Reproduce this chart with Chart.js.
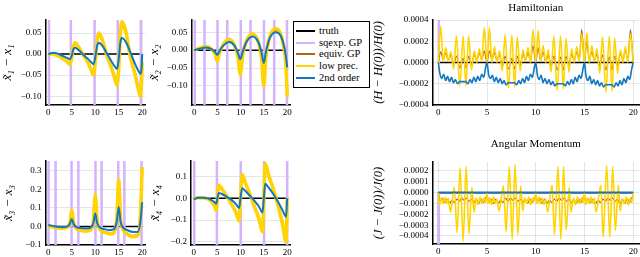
<!DOCTYPE html>
<html><head><meta charset="utf-8">
<script src="https://cdn.jsdelivr.net/npm/chart.js@4.4.1/dist/chart.umd.min.js"></script>
<style>
html,body{margin:0;padding:0;background:#fff;width:640px;height:257px;overflow:hidden;position:relative}
canvas{position:absolute}
#legend{position:absolute;left:293px;top:21px;width:77px;height:67px;border:1.3px solid #000;background:#fff;box-sizing:border-box;font-family:"Liberation Serif","DejaVu Serif",serif;font-size:10.5px;color:#000}
.row{position:absolute;left:0;width:100%;height:0}
.ln{position:absolute;left:2px;width:19px;height:2px;top:-1px}
.tx{position:absolute;left:25px;top:-7px;line-height:14px;white-space:nowrap}
</style></head>
<body>
<canvas id="p1"></canvas><canvas id="p2"></canvas><canvas id="p3"></canvas><canvas id="p4"></canvas>
<canvas id="ham"></canvas><canvas id="ang"></canvas>
<div id="legend"></div>
<script>
// ---------- tick labels ----------
const xTicks = [0, 5, 10, 15, 20];
const yTicks1 = [-0.10, -0.05, 0.00, 0.05];
const yTicks2 = [-0.10, -0.05, 0.00, 0.05];
const yTicks3 = [-0.1, 0.0, 0.1, 0.2, 0.3];
const yTicks4 = [-0.2, -0.1, 0.0, 0.1];
const yTicksH = [-0.0004, -0.0002, 0.0, 0.0002, 0.0004];
const yTicksJ = [-0.0004, -0.0003, -0.0002, -0.0001, 0.0, 0.0001, 0.0002];

// ---------- series names ----------
const seriesNames = ['truth', 'sqexp. GP', 'equiv. GP', 'low prec.', '2nd order'];

// ---------- truth ----------
const truthT = [0, 20];
const truthV = [0, 0];

// ---------- sqexp GP: times at which it shoots off the scale ----------
const sqexpOff = 1;           // off-scale magnitude (far outside every axis)
const sq1T = [0.15, 4.8, 9.85, 14.8, 19.7];
const sq2T = [0.1, 2.2, 5.0, 7.1, 10.0, 12.1, 15.0, 17.2, 19.95];
const sq3T = [0.05, 1.55, 4.95, 6.4, 10.05, 11.35, 14.9, 16.2, 19.85];
const sq4T = [0.1, 4.95, 10.05, 15.05, 20.0];
const sqHT = [0, 0.05];
const sqHV = [0, 0.01];
const sqJT = [0, 0.05];
const sqJV = [0, -0.01];

// ---------- panel 1 : x1 ----------
const t1 = [0, 1, 2, 3, 4, 4.6, 5.0, 5.35, 5.7, 6.5, 7.5, 8.5, 9.2, 9.65, 10.0, 10.4, 10.75, 11.5, 12.5, 13.5, 14.2, 14.65, 15.0, 15.35, 15.65, 16.5, 17.5, 18.5, 19.2, 19.6, 19.85, 20];
const low1 = [0, 0.0, -0.004, -0.01, -0.018, -0.025, -0.008, 0.018, 0.027, 0.016, -0.003, -0.022, -0.04, -0.05, -0.02, 0.03, 0.05, 0.035, -0.005, -0.035, -0.06, -0.075, -0.035, 0.045, 0.077, 0.055, -0.008, -0.05, -0.085, -0.1, -0.07, -0.02];
const equiv1 = [0, 0.0, -0.004, -0.009, -0.016, -0.022, -0.007, 0.016, 0.024, 0.014, -0.003, -0.02, -0.036, -0.045, -0.018, 0.027, 0.045, 0.031, -0.005, -0.032, -0.054, -0.068, -0.032, 0.04, 0.07, 0.05, -0.007, -0.045, -0.077, -0.09, -0.063, -0.018];
const second1 = [0, 0.003, 0.001, -0.004, -0.009, -0.012, -0.003, 0.012, 0.015, 0.009, -0.002, -0.012, -0.02, -0.024, -0.008, 0.02, 0.027, 0.02, 0.001, -0.018, -0.03, -0.035, -0.012, 0.028, 0.038, 0.029, 0.004, -0.024, -0.04, -0.047, -0.035, 0.0];

// ---------- panel 2 : x2 ----------
const t2 = [0, 1, 2.5, 3.8, 4.5, 4.95, 5.4, 6.2, 7.5, 8.7, 9.4, 9.9, 10.4, 11.2, 12.5, 13.8, 14.5, 14.95, 15.4, 16.2, 17.5, 18.6, 19.3, 19.7, 20];
const low2 = [0, 0.005, 0.01, 0.002, -0.012, -0.032, -0.008, 0.015, 0.03, 0.012, -0.02, -0.068, -0.015, 0.025, 0.045, 0.022, -0.025, -0.1, -0.02, 0.035, 0.06, 0.045, 0.005, -0.04, -0.13];
const equiv2 = [0, 0.004, 0.009, 0.002, -0.011, -0.029, -0.007, 0.014, 0.028, 0.011, -0.018, -0.06, -0.013, 0.023, 0.042, 0.02, -0.022, -0.088, -0.018, 0.032, 0.056, 0.042, 0.004, -0.036, -0.115];
const second2 = [0, 0.003, 0.007, 0.002, -0.006, -0.013, -0.003, 0.012, 0.023, 0.012, -0.008, -0.025, -0.005, 0.022, 0.038, 0.022, -0.008, -0.036, -0.006, 0.032, 0.05, 0.04, 0.012, -0.015, -0.048];

// ---------- panel 3 : x3 ----------
const t3 = [0, 1, 2, 3, 4, 4.6, 5.0, 5.4, 6, 7, 8, 9, 9.6, 10.0, 10.4, 11, 12, 13, 14, 14.6, 15.0, 15.4, 16, 17, 18, 19, 19.6, 20];
const low3 = [0.002, -0.004, -0.008, -0.01, -0.006, 0.02, 0.085, 0.02, -0.012, -0.022, -0.026, -0.02, 0.03, 0.17, 0.035, -0.015, -0.033, -0.04, -0.035, 0.05, 0.25, 0.045, -0.02, -0.045, -0.055, -0.05, 0.05, 0.32];
const equiv3 = [0.002, -0.004, -0.007, -0.009, -0.005, 0.018, 0.077, 0.018, -0.011, -0.02, -0.024, -0.018, 0.027, 0.155, 0.032, -0.014, -0.03, -0.036, -0.032, 0.045, 0.225, 0.04, -0.018, -0.041, -0.05, -0.045, 0.045, 0.29];
const second3 = [0.008, 0.003, -0.002, -0.004, -0.001, 0.014, 0.04, 0.012, -0.004, -0.009, -0.011, -0.007, 0.018, 0.07, 0.018, -0.006, -0.015, -0.02, -0.015, 0.028, 0.105, 0.025, -0.008, -0.022, -0.03, -0.03, 0.02, 0.13];

// ---------- panel 4 : x4 ----------
const t4 = [0, 1, 2, 3, 3.8, 4.4, 4.8, 5.05, 5.35, 6, 7, 8, 9, 9.7, 10.0, 10.35, 11, 12, 13, 14, 14.7, 15.0, 15.3, 16, 17, 18, 19, 19.75, 20];
const low4 = [0, 0.003, 0.003, -0.003, -0.015, -0.035, -0.055, 0.0, 0.06, 0.045, 0.012, -0.025, -0.065, -0.105, 0.0, 0.11, 0.075, 0.02, -0.04, -0.1, -0.155, 0.0, 0.16, 0.11, 0.045, -0.03, -0.12, -0.2, 0.0];
const equiv4 = [0, 0.003, 0.003, -0.003, -0.014, -0.032, -0.05, 0.0, 0.055, 0.041, 0.011, -0.023, -0.06, -0.095, 0.0, 0.1, 0.068, 0.018, -0.036, -0.09, -0.14, 0.0, 0.145, 0.1, 0.041, -0.027, -0.108, -0.18, 0.0];
const second4 = [-0.005, 0.003, 0.003, 0.0, -0.008, -0.017, -0.025, 0.0, 0.025, 0.02, 0.008, -0.006, -0.026, -0.045, 0.0, 0.047, 0.035, 0.012, -0.012, -0.04, -0.065, 0.0, 0.067, 0.05, 0.02, -0.015, -0.055, -0.085, 0.0];

// ---------- Hamiltonian ----------
const hamT = [0, 0.24, 0.5, 0.76, 1.02, 1.28, 1.57, 1.86, 2.2, 2.55, 2.83, 3.1, 3.4, 3.69, 3.95, 4.2, 4.46, 4.72, 5.0,
  5.24, 5.5, 5.76, 6.02, 6.28, 6.57, 6.86, 7.2, 7.55, 7.83, 8.1, 8.4, 8.69, 8.95, 9.2, 9.46, 9.72, 10.0,
  10.24, 10.5, 10.76, 11.02, 11.28, 11.57, 11.86, 12.2, 12.55, 12.83, 13.1, 13.4, 13.69, 13.95, 14.2, 14.46, 14.72, 15.0,
  15.24, 15.5, 15.76, 16.02, 16.28, 16.57, 16.86, 17.2, 17.55, 17.83, 18.1, 18.4, 18.69, 18.95, 19.2, 19.46, 19.72, 20.0];
const hamLow = [0, 3.4e-4, 0.1e-4, 1.4e-4, 0.1e-4, 1.0e-4, -0.6e-4, 2.5e-4, -2.2e-4, 2.5e-4, -2.2e-4, 2.5e-4, -0.7e-4, 1.1e-4, 0, 1.3e-4, 0.1e-4, 3.3e-4, 0,
  3.3e-4, 0, 1.5e-4, 0, 1.1e-4, -0.8e-4, 2.6e-4, -2.4e-4, 2.6e-4, -2.3e-4, 2.4e-4, -0.8e-4, 1.2e-4, 0.1e-4, 1.4e-4, 0, 3.1e-4, 0,
  3.0e-4, 0.1e-4, 1.6e-4, 0, 1.2e-4, -0.9e-4, 2.5e-4, -2.6e-4, 2.5e-4, -2.5e-4, 2.3e-4, -0.9e-4, 1.3e-4, 0, 1.5e-4, 0.1e-4, 2.7e-4, 0,
  2.8e-4, 0, 1.6e-4, 0.1e-4, 1.3e-4, -1.0e-4, 2.4e-4, -2.8e-4, 2.5e-4, -2.7e-4, 2.3e-4, -1.0e-4, 1.2e-4, 0, 1.5e-4, 0, 2.7e-4, 0];
const hamEquiv = [0, 1.0e-4, 0.3e-4, 0.9e-4, 0.2e-4, 0.7e-4, -0.2e-4, 0.6e-4, -0.5e-4, 0.4e-4, -0.5e-4, 0.6e-4, -0.2e-4, 0.7e-4, 0.2e-4, 0.9e-4, 0.3e-4, 1.1e-4, 0,
  1.1e-4, 0.3e-4, 0.9e-4, 0.2e-4, 0.7e-4, -0.3e-4, 0.6e-4, -0.6e-4, 0.4e-4, -0.6e-4, 0.6e-4, -0.3e-4, 0.8e-4, 0.2e-4, 0.9e-4, 0.2e-4, 1.6e-4, 0,
  1.4e-4, 0.2e-4, 1.0e-4, 0.1e-4, 0.7e-4, -0.3e-4, 0.6e-4, -0.7e-4, 0.5e-4, -0.7e-4, 0.6e-4, -0.2e-4, 0.8e-4, 0.2e-4, 1.0e-4, 0.2e-4, 3.1e-4, 0,
  2.0e-4, 0.3e-4, 1.0e-4, 0.2e-4, 0.8e-4, -0.3e-4, 0.7e-4, -0.7e-4, 0.5e-4, -0.7e-4, 0.6e-4, -0.2e-4, 0.8e-4, 0.3e-4, 1.1e-4, 0.3e-4, 3.1e-4, 0];
const hamSecondT = [0, 0.15, 0.35, 0.55, 0.75, 0.95, 1.15, 1.35, 1.55, 1.75, 1.95, 2.2, 2.5, 2.8, 3.05, 3.25, 3.45, 3.65, 3.85, 4.05, 4.25, 4.45, 4.65, 4.85, 5.0,
  5.15, 5.35, 5.55, 5.75, 5.95, 6.15, 6.35, 6.55, 6.75, 6.95, 7.2, 7.5, 7.8, 8.05, 8.25, 8.45, 8.65, 8.85, 9.05, 9.25, 9.45, 9.65, 9.85, 10.0,
  10.15, 10.35, 10.55, 10.75, 10.95, 11.15, 11.35, 11.55, 11.75, 11.95, 12.2, 12.5, 12.8, 13.05, 13.25, 13.45, 13.65, 13.85, 14.05, 14.25, 14.45, 14.65, 14.85, 15.0,
  15.15, 15.35, 15.55, 15.75, 15.95, 16.15, 16.35, 16.55, 16.75, 16.95, 17.2, 17.5, 17.8, 18.05, 18.25, 18.45, 18.65, 18.85, 19.05, 19.25, 19.45, 19.65, 19.85, 20.0];
const hamSecond = [0, -1.0e-4, -1.5e-4, -1.1e-4, -1.7e-4, -1.3e-4, -1.8e-4, -1.4e-4, -1.9e-4, -1.6e-4, -2.0e-4, -1.8e-4, -1.8e-4, -1.8e-4, -2.0e-4, -1.6e-4, -1.9e-4, -1.4e-4, -1.8e-4, -1.3e-4, -1.7e-4, -1.1e-4, -1.4e-4, -0.5e-4, 0,
  -1.1e-4, -1.5e-4, -1.2e-4, -1.8e-4, -1.4e-4, -1.9e-4, -1.5e-4, -2.0e-4, -1.7e-4, -2.1e-4, -1.9e-4, -1.9e-4, -1.9e-4, -2.1e-4, -1.7e-4, -2.0e-4, -1.5e-4, -1.9e-4, -1.3e-4, -1.7e-4, -1.1e-4, -1.4e-4, -0.5e-4, 0,
  -1.1e-4, -1.6e-4, -1.2e-4, -1.9e-4, -1.5e-4, -2.0e-4, -1.6e-4, -2.1e-4, -1.8e-4, -2.2e-4, -2.0e-4, -2.0e-4, -2.0e-4, -2.2e-4, -1.8e-4, -2.1e-4, -1.6e-4, -2.0e-4, -1.4e-4, -1.8e-4, -1.2e-4, -1.5e-4, -0.6e-4, 0,
  -1.2e-4, -1.7e-4, -1.3e-4, -2.0e-4, -1.6e-4, -2.1e-4, -1.7e-4, -2.2e-4, -1.9e-4, -2.3e-4, -2.1e-4, -2.1e-4, -2.1e-4, -2.3e-4, -1.9e-4, -2.2e-4, -1.7e-4, -2.1e-4, -1.5e-4, -1.9e-4, -1.3e-4, -1.6e-4, -0.6e-4, 0];

// ---------- Angular momentum ----------
const angLowT = [0, 0.12, 0.3, 0.48, 0.66, 0.84, 1.02, 1.24, 1.64, 1.92, 2.24, 2.54, 2.86, 3.14, 3.44, 3.66, 3.88, 4.08, 4.28, 4.48, 4.68, 4.86, 5.0,
  5.12, 5.3, 5.48, 5.66, 5.84, 6.02, 6.24, 6.68, 6.96, 7.28, 7.58, 7.88, 8.16, 8.46, 8.66, 8.88, 9.08, 9.28, 9.48, 9.68, 9.86, 10.0,
  10.12, 10.3, 10.48, 10.66, 10.84, 11.02, 11.22, 11.68, 11.92, 12.28, 12.58, 12.86, 13.12, 13.44, 13.62, 13.88, 14.08, 14.28, 14.48, 14.68, 14.86, 15.0,
  15.12, 15.3, 15.48, 15.66, 15.84, 16.02, 16.2, 16.68, 16.92, 17.28, 17.6, 17.9, 18.18, 18.48, 18.66, 18.88, 19.08, 19.28, 19.48, 19.68, 19.86, 20.0];
const angLow = [0, -1.1e-4, -0.5e-4, -1.0e-4, -0.4e-4, -1.0e-4, -0.5e-4, -1.8e-4, 0.5e-4, -3.7e-4, 2.3e-4, -4.5e-4, 2.4e-4, -3.8e-4, 0.5e-4, -1.8e-4, -0.5e-4, -1.1e-4, -0.4e-4, -1.0e-4, -0.5e-4, -0.9e-4, 0,
  -1.0e-4, -0.5e-4, -1.1e-4, -0.4e-4, -1.0e-4, -0.6e-4, -1.7e-4, 0.6e-4, -3.6e-4, 2.4e-4, -4.3e-4, 2.6e-4, -3.9e-4, 0.6e-4, -1.7e-4, -0.5e-4, -1.0e-4, -0.4e-4, -1.1e-4, -0.5e-4, -0.8e-4, 0,
  -1.0e-4, -0.4e-4, -1.0e-4, -0.5e-4, -1.1e-4, -0.6e-4, -1.8e-4, 0.7e-4, -3.9e-4, 2.4e-4, -4.3e-4, 2.4e-4, -3.5e-4, 0.5e-4, -1.8e-4, -0.5e-4, -1.1e-4, -0.4e-4, -1.0e-4, -0.5e-4, -0.9e-4, 0,
  -1.1e-4, -0.5e-4, -1.0e-4, -0.4e-4, -1.0e-4, -0.5e-4, -1.8e-4, 0.7e-4, -4.1e-4, 2.5e-4, -4.1e-4, 2.4e-4, -3.5e-4, 0.7e-4, -1.7e-4, -0.6e-4, -1.0e-4, -0.4e-4, -1.1e-4, -0.5e-4, -0.9e-4, 0];
const angEquivT = [0, 0.15, 0.4, 0.65, 0.9, 1.15, 1.4, 1.65, 1.9, 2.15, 2.4, 2.65, 2.9, 3.15, 3.4, 3.65, 3.9, 4.15, 4.4, 4.65, 4.85, 5.0,
  5.15, 5.4, 5.65, 5.9, 6.15, 6.4, 6.65, 6.9, 7.15, 7.4, 7.65, 7.9, 8.15, 8.4, 8.65, 8.9, 9.15, 9.4, 9.65, 9.85, 10.0,
  10.15, 10.4, 10.65, 10.9, 11.15, 11.4, 11.65, 11.9, 12.15, 12.4, 12.65, 12.9, 13.15, 13.4, 13.65, 13.9, 14.15, 14.4, 14.65, 14.85, 15.0,
  15.15, 15.4, 15.65, 15.9, 16.15, 16.4, 16.65, 16.9, 17.15, 17.4, 17.65, 17.9, 18.15, 18.4, 18.65, 18.9, 19.15, 19.4, 19.65, 19.85, 20.0];
const angEquiv = [0, -0.9e-4, -0.5e-4, -0.9e-4, -0.6e-4, -1.0e-4, -0.7e-4, -0.9e-4, -0.6e-4, -0.8e-4, -0.5e-4, -0.7e-4, -0.5e-4, -0.8e-4, -0.6e-4, -0.9e-4, -0.6e-4, -1.0e-4, -0.6e-4, -0.9e-4, -0.5e-4, -0.3e-4,
  -0.9e-4, -0.6e-4, -1.0e-4, -0.6e-4, -1.0e-4, -0.7e-4, -0.9e-4, -0.5e-4, -0.8e-4, -0.5e-4, -0.7e-4, -0.5e-4, -0.8e-4, -0.6e-4, -0.9e-4, -0.6e-4, -1.0e-4, -0.6e-4, -0.9e-4, -0.5e-4, -0.3e-4,
  -0.9e-4, -0.5e-4, -1.0e-4, -0.6e-4, -1.0e-4, -0.7e-4, -0.9e-4, -0.6e-4, -0.8e-4, -0.5e-4, -0.7e-4, -0.5e-4, -0.8e-4, -0.6e-4, -0.9e-4, -0.6e-4, -1.0e-4, -0.6e-4, -0.9e-4, -0.5e-4, -0.3e-4,
  -0.9e-4, -0.6e-4, -0.9e-4, -0.6e-4, -1.0e-4, -0.7e-4, -0.9e-4, -0.6e-4, -0.8e-4, -0.5e-4, -0.7e-4, -0.5e-4, -0.8e-4, -0.6e-4, -1.0e-4, -0.6e-4, -1.0e-4, -0.6e-4, -0.9e-4, -0.5e-4, -0.3e-4];
const angSecondT = [0, 20];
const angSecond = [0.02e-4, 0.02e-4];

// ---------- styling ----------
const C = {truth: '#000000', sqexp: '#d5b3fa', equiv: '#b0621f', low: '#ffd400', second: '#1177c0'};
const FONT = '"Liberation Serif", "DejaVu Serif", serif';
const GRID = 'rgba(0,0,0,0.10)';

function pts(t, v) { return t.map((x, i) => ({x: x, y: v[i]})); }
function spikes(ts) {
  const d = [];
  ts.forEach(t => { d.push({x: t, y: sqexpOff}, {x: t, y: -sqexpOff}, {x: t, y: null}); });
  return d;
}
function ds(data, color, width, smooth) {
  return {data: data, borderColor: color, backgroundColor: color, borderWidth: width, fill: false,
    pointRadius: 0, spanGaps: false, tension: 0,
    cubicInterpolationMode: smooth ? 'monotone' : 'default'};
}
function fmt(d) { return v => (v < 0 ? '\u2212' : '') + Math.abs(v).toFixed(d); }

function makeChart(id, g, yr, yTicks, yDec, yLabel, datasets, title) {
  const cv = document.getElementById(id);
  cv.width = g.w; cv.height = g.h;
  cv.style.left = g.l + 'px'; cv.style.top = g.t + 'px';
  cv.style.width = g.w + 'px'; cv.style.height = g.h + 'px';
  new Chart(cv, {
    type: 'line',
    data: {datasets: datasets},
    options: {
      responsive: false, animation: false, devicePixelRatio: 1,
      layout: {padding: {top: g.pT, right: g.pR, left: 0, bottom: 0}},
      plugins: {
        legend: {display: false}, tooltip: {enabled: false},
        title: title ? {display: true, text: title, fullSize: false, color: '#000',
          font: {family: FONT, size: 11, weight: 'normal'}, padding: {top: g.tt, bottom: g.tb}} : {display: false}
      },
      elements: {point: {radius: 0, hoverRadius: 0}},
      scales: {
        x: {type: 'linear', min: -0.6, max: 20.6,
          afterBuildTicks: s => { s.ticks = xTicks.map(v => ({value: v})); },
          afterFit: s => { s.height = g.xH; },
          ticks: {autoSkip: false, maxRotation: 0, padding: 2, color: '#000', font: {family: FONT, size: 9}, callback: v => String(v)},
          grid: {color: GRID, lineWidth: 1, drawTicks: false},
          border: {color: '#000', width: 1.5}},
        y: {type: 'linear', min: yr[0], max: yr[1],
          afterBuildTicks: s => { s.ticks = yTicks.map(v => ({value: v})); },
          afterFit: s => { s.width = g.yW; },
          ticks: {autoSkip: false, padding: 4, color: '#000', font: {family: FONT, size: 9}, callback: fmt(yDec)},
          grid: {color: GRID, lineWidth: 1, drawTicks: false},
          border: {color: '#000', width: 1.5},
          title: {display: true, text: yLabel, color: '#000', font: {family: FONT, size: g.yf || 13, style: 'italic'}, padding: {top: g.yp, bottom: 0}}}
      }
    }
  });
}

function panelSets(t, low, equiv, second, sqT) {
  return [
    ds(pts(t, second), C.second, 2, true),
    ds(pts(t, low), C.low, 3.5, true),
    ds(pts(t, equiv), C.equiv, 2, true),
    ds(spikes(sqT), C.sqexp, 2.5, false),
    ds(pts(truthT, truthV), C.truth, 1.5, false)
  ];
}

makeChart('p1', {l: 0, t: 6, w: 153, h: 113, yW: 45.5, xH: 14, pT: 14, pR: 8, yp: 0},
  [-0.121, 0.081], yTicks1, 2, 'x\u0303\u2081 \u2212 x\u2081', panelSets(t1, low1, equiv1, second1, sq1T));
makeChart('p2', {l: 146, t: 6, w: 152, h: 113, yW: 45.5, xH: 14, pT: 14, pR: 8, yp: 1},
  [-0.153, 0.084], yTicks2, 2, 'x\u0303\u2082 \u2212 x\u2082', panelSets(t2, low2, equiv2, second2, sq2T));
makeChart('p3', {l: 0, t: 147, w: 153, h: 110, yW: 45.5, xH: 12, pT: 14, pR: 8, yp: 1},
  [-0.1, 0.352], yTicks3, 1, 'x\u0303\u2083 \u2212 x\u2083', panelSets(t3, low3, equiv3, second3, sq3T));
makeChart('p4', {l: 146, t: 147, w: 152, h: 110, yW: 45, xH: 12, pT: 14, pR: 8, yp: 2},
  [-0.215, 0.172], yTicks4, 1, 'x\u0303\u2084 \u2212 x\u2084', panelSets(t4, low4, equiv4, second4, sq4T));

makeChart('ham', {l: 370, t: 0, w: 270, h: 119, yW: 62.5, xH: 14, pT: 0, pR: 1, yp: 1.5, yf: 12.5, tt: 2, tb: 4.8},
  [-0.0004, 0.0004], yTicksH, 4, '(H \u2212 H(0))/H(0)', [
    ds(pts(hamSecondT, hamSecond), C.second, 1.6, true),
    ds(pts(hamT, hamLow), C.low, 1.6, true),
    ds(pts(hamT, hamEquiv), C.equiv, 1.2, true),
    ds(pts(sqHT, sqHV), C.sqexp, 2.5, false),
    ds(pts(truthT, truthV), C.truth, 1.5, false)
  ], 'Hamiltonian');

makeChart('ang', {l: 370, t: 130, w: 270, h: 127, yW: 62.5, xH: 13, pT: 0, pR: 1, yp: 1.5, yf: 12.5, tt: 7.4, tb: 11.4},
  [-0.000474, 0.000283], yTicksJ, 4, '(J \u2212 J(0))/J(0)', [
    ds(pts(angSecondT, angSecond), C.second, 1.8, false),
    ds(pts(angLowT, angLow), C.low, 1.6, true),
    ds(pts(angEquivT, angEquiv), C.equiv, 1.2, true),
    ds(pts(sqJT, sqJV), C.sqexp, 2.5, false),
    ds(pts(truthT, truthV), C.truth, 1.5, false)
  ], 'Angular Momentum');

// ---------- legend ----------
const legendColors = [C.truth, C.sqexp, C.equiv, C.low, C.second];
const lg = document.getElementById('legend');
seriesNames.forEach((name, i) => {
  const row = document.createElement('div');
  row.className = 'row';
  row.style.top = (9 + 11.7 * i) + 'px';
  row.innerHTML = '<span class="ln" style="background:' + legendColors[i] + '"></span><span class="tx">' + name + '</span>';
  lg.appendChild(row);
});
</script>
</body></html>
